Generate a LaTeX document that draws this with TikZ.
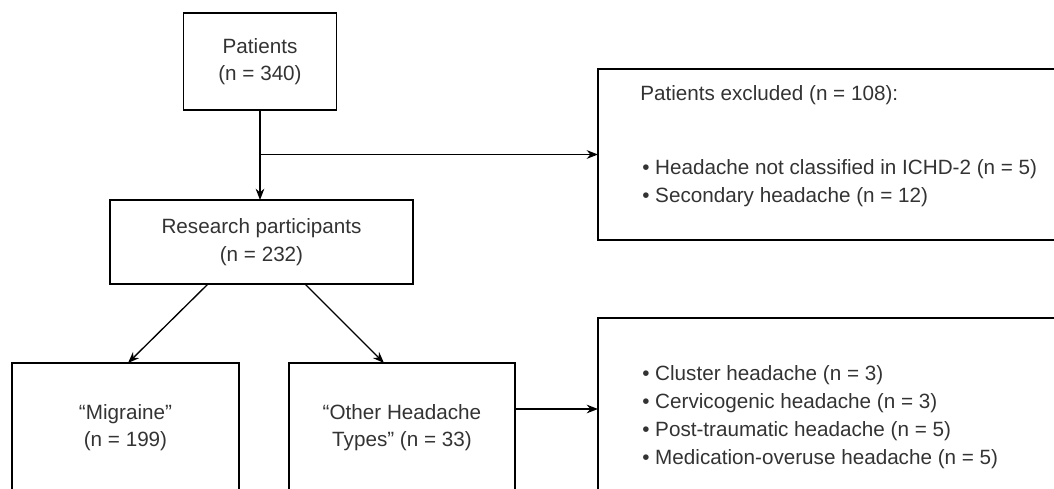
\documentclass[tikz,border=0pt]{standalone}
\usepackage{fontspec}
\setmainfont{Liberation Sans}
\usetikzlibrary{arrows.meta,calc}
\begin{document}
\begin{tikzpicture}[x=0.75pt,y=-0.75pt,
  box/.style={draw=black, line width=1pt, rectangle, inner sep=0pt, outer sep=0pt},
  txt/.style={font=\fontsize{15.5}{20.5}\selectfont, text=black!80, align=center, inner sep=0pt},
  ltxt/.style={font=\fontsize{15.5}{21}\selectfont, text=black!80, align=left, inner sep=0pt, anchor=west},
  arr/.style={draw=black, line width=1pt, -{Stealth[length=8.5pt,width=6.5pt]}}]
\useasboundingbox (0,0) rectangle (1054,489);
\clip (0,0) rectangle (1054,489);
% boxes
\node[box, minimum width=114.75pt, minimum height=72.75pt] (pat) at (260,61.5) {};
\node[box, minimum width=227.25pt, minimum height=63pt] (res) at (261.5,242) {};
\node[box, minimum width=170.25pt, minimum height=96.75pt] (mig) at (125.5,427.5) {};
\node[box, minimum width=169.5pt, minimum height=96.75pt] (oth) at (402,427.5) {};
\node[box, minimum width=354pt, minimum height=128.25pt] (exc) at (834,154.5) {};
\node[box, minimum width=354pt, minimum height=136.5pt] (oty) at (834,409) {};
% texts
\node[txt] (patT) at (pat.center) {Patients\\(n = 340)};
\node[txt] (resT) at (res.center) {Research participants\\(n = 232)};
\node[txt] (migT) at (mig.center) {“Migraine”\\(n = 199)};
\node[txt] (othT) at (oth.center) {“Other Headache\\Types” (n = 33)};
\node[ltxt] (excH) at (640,95) {Patients excluded (n = 108):};
\node[ltxt] (excB) at (642,183.5) {• Headache not classified in ICHD-2 (n = 5)\\• Secondary headache (n = 12)};
\node[ltxt] (otyB) at (642,417) {• Cluster headache (n = 3)\\• Cervicogenic headache (n = 3)\\• Post-traumatic headache (n = 5)\\• Medication-overuse headache (n = 5)};
% connectors
\coordinate (br) at (pat.south |- exc.west);
\draw[arr] (pat.south) -- (pat.south |- res.north);
\draw[line width=1pt] (pat.south) -- (br);
\draw[arr] (br) -- (exc.west);
\draw[arr] ($(res.south)+(-53.5,0)$) -- ($(mig.north)+(2.5,0)$);
\draw[arr] ($(res.south)+(43.5,0)$) -- ($(oth.north)+(-18,0)$);
\draw[arr] (oth.east |- oty.west) -- (oty.west);
\end{tikzpicture}
\end{document}
